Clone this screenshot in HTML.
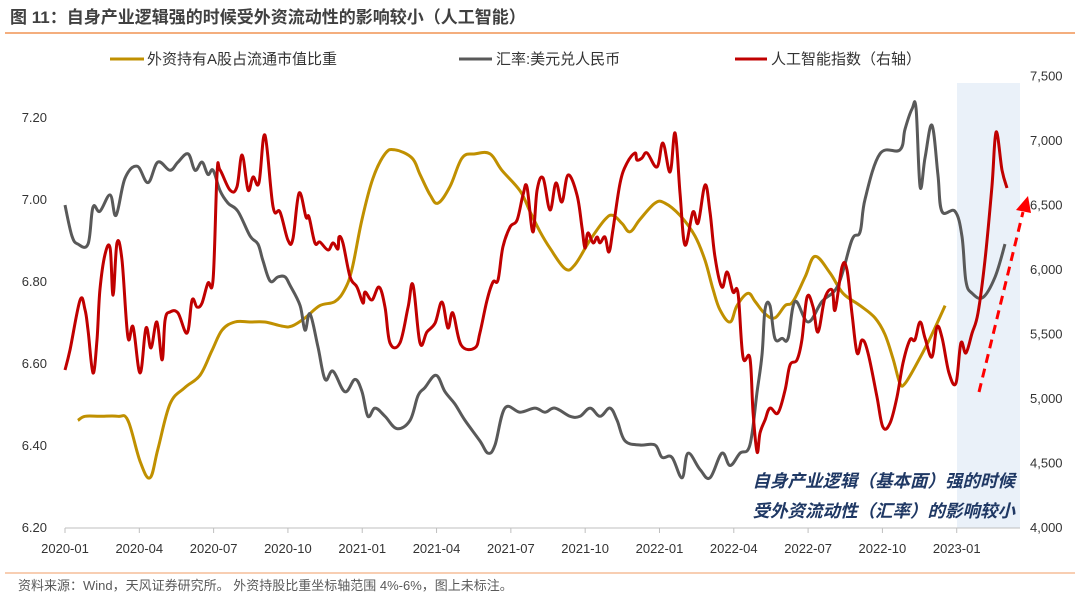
<!DOCTYPE html>
<html><head><meta charset="utf-8">
<style>
html,body{margin:0;padding:0;background:#fff;}
body{width:1080px;height:599px;overflow:hidden;font-family:"Liberation Sans","Noto Sans CJK SC",sans-serif;}
svg{display:block}
</style></head>
<body>
<svg id="chart" width="1080" height="599" viewBox="0 0 1080 599" xmlns="http://www.w3.org/2000/svg">
  <text x="10" y="23" font-size="17" font-weight="bold" fill="#404040" font-family="Liberation Sans, Noto Sans CJK SC, sans-serif">图 11：自身产业逻辑强的时候受外资流动性的影响较小（人工智能）</text>
  <line x1="5" y1="33" x2="1075" y2="33" stroke="#ed7d31" stroke-width="1.2"/>
  <rect x="957" y="83" width="63" height="445" fill="#eaf1f9"/>
  <g id="legend" font-size="15" fill="#333" font-family="Liberation Sans, Noto Sans CJK SC, sans-serif">
    <g>
      <line x1="110" y1="59" x2="144" y2="59" stroke="#c09000" stroke-width="3"/>
      <text x="147" y="64">外资持有A股占流通市值比重</text>
    </g>
    <g>
      <line x1="459" y1="59" x2="492" y2="59" stroke="#595959" stroke-width="3"/>
      <text x="496" y="64">汇率:美元兑人民币</text>
    </g>
    <g>
      <line x1="735" y1="59" x2="767" y2="59" stroke="#c00000" stroke-width="3"/>
      <text x="771" y="64">人工智能指数（右轴）</text>
    </g>
  </g>
  <g id="axes"></g>
  <g id="series"></g>
  <g>
    <line x1="979" y1="392" x2="1023" y2="212" stroke="#ff0000" stroke-width="3" stroke-dasharray="9,6"/>
    <polygon points="1028,196 1016,210 1031,213" fill="#ff0000"/>
  </g>
  <text x="1015" y="487" text-anchor="end" font-size="17.5" font-style="italic" font-weight="bold" fill="#1f3864" font-family="Liberation Sans, Noto Sans CJK SC, sans-serif">自身产业逻辑（基本面）强的时候</text>
  <text x="1015" y="517" text-anchor="end" font-size="17.5" font-style="italic" font-weight="bold" fill="#1f3864" font-family="Liberation Sans, Noto Sans CJK SC, sans-serif">受外资流动性（汇率）的影响较小</text>
  <line x1="5" y1="573" x2="1075" y2="573" stroke="#f4b183" stroke-width="1.2"/>
  <text x="18" y="590" font-size="13" fill="#595959" font-family="Liberation Sans, Noto Sans CJK SC, sans-serif">资料来源：Wind，天风证券研究所。 外资持股比重坐标轴范围 4%-6%，图上未标注。</text>
</svg>
<script>
const xLabels = ["2020-01","2020-04","2020-07","2020-10","2021-01","2021-04","2021-07","2021-10","2022-01","2022-04","2022-07","2022-10","2023-01"];
const leftTicks = [6.20,6.40,6.60,6.80,7.00,7.20];
const rightTicks = [4000,4500,5000,5500,6000,6500,7000,7500];
const fxMonths = [0,0.28,0.52,0.93,1.13,1.41,1.82,2.06,2.42,2.91,3.35,3.75,4.24,4.56,4.97,5.25,5.53,5.77,5.98,6.26,6.58,6.98,7.47,7.79,7.99,8.28,8.6,8.88,9.08,9.49,9.69,9.89,10.21,10.5,10.82,11.3,11.71,11.99,12.23,12.52,12.92,13.4,13.93,14.25,14.53,14.98,15.34,15.74,16.15,16.75,17.08,17.36,17.76,18.37,18.97,19.38,19.78,20.39,20.79,21.2,21.6,22.0,22.29,22.61,23.21,23.82,24.1,24.5,24.91,25.15,25.64,26.04,26.52,26.85,27.25,27.65,27.94,28.14,28.26,28.46,28.66,28.95,29.19,29.47,30.0,30.56,31.21,31.77,32.1,32.3,32.9,33.71,33.91,34.2,34.36,34.52,34.72,35.0,35.24,35.4,35.93,36.21,36.37,36.62,37.06,37.55,37.95];
const fxValues = [6.985,6.91,6.89,6.89,6.98,6.97,7.01,6.96,7.05,7.08,7.04,7.09,7.07,7.09,7.11,7.07,7.09,7.06,7.07,7.02,6.99,6.97,6.91,6.89,6.85,6.80,6.81,6.81,6.79,6.74,6.68,6.72,6.64,6.56,6.58,6.53,6.56,6.53,6.47,6.49,6.47,6.44,6.46,6.52,6.54,6.57,6.53,6.50,6.46,6.41,6.38,6.40,6.49,6.48,6.49,6.48,6.49,6.47,6.47,6.49,6.47,6.49,6.46,6.41,6.40,6.40,6.37,6.37,6.32,6.38,6.34,6.32,6.38,6.35,6.38,6.40,6.53,6.62,6.73,6.74,6.66,6.66,6.66,6.75,6.70,6.75,6.79,6.90,6.92,7.0,7.11,7.12,7.17,7.22,7.22,7.03,7.10,7.18,7.06,6.97,6.97,6.91,6.80,6.77,6.76,6.81,6.89];
const holdMonths = [0.52,0.81,1.41,2.14,2.54,3.03,3.43,3.75,4.24,4.84,5.45,5.93,6.34,6.86,7.47,8.07,8.76,9.16,9.69,10.29,10.9,11.3,11.59,11.99,12.43,12.92,13.32,14.01,14.33,14.74,15.06,15.54,16.03,16.55,17.16,17.64,18.37,18.77,19.18,19.58,20.19,20.59,21.2,21.8,22.12,22.49,22.81,23.21,23.82,24.22,24.83,25.43,25.84,26.16,26.44,26.85,27.13,27.57,27.86,28.26,28.66,29.07,29.39,29.88,30.28,30.88,31.41,32.1,32.7,33.1,33.43,33.71,33.91,34.31,34.92,35.53];
const holdValues = [6.46,6.47,6.47,6.47,6.46,6.36,6.32,6.39,6.50,6.54,6.57,6.63,6.68,6.70,6.70,6.70,6.69,6.69,6.71,6.74,6.75,6.78,6.83,6.95,7.05,7.11,7.12,7.10,7.06,7.01,6.99,7.03,7.10,7.11,7.11,7.07,7.02,6.97,6.92,6.88,6.83,6.84,6.90,6.95,6.96,6.94,6.92,6.95,6.99,6.99,6.96,6.91,6.85,6.78,6.73,6.70,6.74,6.77,6.75,6.72,6.71,6.74,6.75,6.81,6.86,6.82,6.77,6.74,6.71,6.67,6.61,6.55,6.55,6.59,6.66,6.74];
const aiMonths = [0,0.2,0.61,0.81,0.93,1.13,1.29,1.41,1.61,1.82,1.94,2.1,2.3,2.54,2.75,3.03,3.27,3.47,3.71,3.92,4.04,4.24,4.56,4.93,5.13,5.33,5.53,5.77,5.98,6.14,6.26,6.66,6.94,7.15,7.39,7.59,7.83,8.07,8.4,8.68,9.0,9.2,9.45,9.73,9.85,10.09,10.29,10.62,10.82,11.02,11.06,11.22,11.51,11.79,12.03,12.11,12.39,12.68,12.92,13.12,13.52,13.85,14.05,14.33,14.61,14.94,15.22,15.46,15.66,15.99,16.55,16.75,17.04,17.28,17.48,17.68,17.97,18.25,18.49,18.65,18.89,19.06,19.3,19.58,19.82,20.06,20.31,20.67,20.87,20.99,21.11,21.32,21.48,21.6,21.8,21.96,22.12,22.41,22.69,23.01,23.09,23.29,23.5,23.9,24.14,24.43,24.63,24.83,25.03,25.35,25.56,25.84,26.04,26.24,26.52,26.73,26.97,27.17,27.37,27.65,27.78,27.94,28.06,28.26,28.46,28.78,29.07,29.27,29.55,29.75,29.96,30.2,30.4,30.68,30.97,31.09,31.37,31.57,31.77,31.98,32.18,32.42,32.78,33.02,33.31,33.59,33.83,34.11,34.31,34.52,34.72,35.0,35.2,35.41,35.69,35.97,36.17,36.37,36.62,36.86,37.14,37.42,37.59,37.83,38.03];
const aiValues = [5217,5372,5760,5682,5527,5194,5450,5837,6109,6163,5798,6202,6070,5473,5550,5194,5543,5388,5589,5295,5605,5667,5659,5504,5760,5705,5736,5891,5922,6744,6767,6612,6636,6884,6612,6713,6667,7039,6481,6442,6225,6233,6589,6403,6403,6202,6209,6147,6202,6155,6248,6202,5938,5860,5736,5822,5760,5860,5705,5426,5426,5705,5876,5426,5512,5581,5744,5543,5659,5411,5388,5504,5760,5899,5915,6171,6326,6380,6574,6636,6287,6612,6705,6457,6667,6519,6729,6574,6326,6163,6279,6202,6248,6202,6248,6132,6302,6667,6822,6899,6845,6860,6899,6791,6977,6752,7054,6589,6186,6442,6357,6651,6442,6093,5860,5977,5822,5814,5318,5310,4884,4581,4729,4829,4922,4884,5062,5256,5295,5450,5783,5705,5512,5775,5837,5682,6016,5992,5659,5349,5450,5349,5008,4775,4806,5008,5271,5450,5450,5589,5465,5318,5550,5465,5194,5116,5426,5349,5504,5659,6070,6636,7062,6767,6628];

const NS = "http://www.w3.org/2000/svg";
const X0 = 65, PX_PER_MONTH = 24.77;
function xScale(m){ return X0 + m * PX_PER_MONTH; }
function yLeft(v){ return 199 - (v - 7.0) * 410; }
function yRight(r){ return 527 - (r - 4000) * 0.129; }
function mk(tag, attrs, parent){
  const e = document.createElementNS(NS, tag);
  for (const k in attrs) e.setAttribute(k, attrs[k]);
  parent.appendChild(e);
  return e;
}
const axes = document.getElementById('axes');
const series = document.getElementById('series');
const fontStack = "Liberation Sans, Noto Sans CJK SC, sans-serif";

const xAxis = mk('line', {x1:65, y1:528, x2:1020, y2:528, stroke:'#bfbfbf', 'stroke-width':1}, axes);



xLabels.forEach((lab, i) => {
  const x = xScale(i * 3);
  const tk = mk('line', {x1:x, y1:528, x2:x, y2:533, stroke:'#bfbfbf', 'stroke-width':1}, axes);
  
  
  const t = mk('text', {x:x, y:553, 'text-anchor':'middle', 'font-size':13, fill:'#333', 'font-family':fontStack}, axes);
  t.textContent = lab;
  
  
});
leftTicks.forEach(v => {
  const t = mk('text', {x:47, y:yLeft(v)+5, 'text-anchor':'end', 'font-size':13, fill:'#333', 'font-family':fontStack}, axes);
  t.textContent = v.toFixed(2);
  
  
});
rightTicks.forEach(r => {
  const t = mk('text', {x:1030, y:yRight(r)+5, 'text-anchor':'start', 'font-size':13, fill:'#333', 'font-family':fontStack}, axes);
  t.textContent = r.toLocaleString('en-US');
  
  
});

function smoothPath(pts){
  let d = 'M' + pts[0][0].toFixed(1) + ',' + pts[0][1].toFixed(1);
  for (let i = 0; i < pts.length - 1; i++){
    const p0 = pts[i-1] || pts[i], p1 = pts[i], p2 = pts[i+1], p3 = pts[i+2] || p2;
    const t = 0.18;
    const c1x = p1[0] + (p2[0]-p0[0])*t, c1y = p1[1] + (p2[1]-p0[1])*t;
    const c2x = p2[0] - (p3[0]-p1[0])*t, c2y = p2[1] - (p3[1]-p1[1])*t;
    d += ' C' + c1x.toFixed(1)+','+c1y.toFixed(1)+' '+c2x.toFixed(1)+','+c2y.toFixed(1)+' '+p2[0].toFixed(1)+','+p2[1].toFixed(1);
  }
  return d;
}

const goldPts = holdMonths.map((m,i) => [xScale(m), yLeft(holdValues[i])]);
const gold = mk('path', {d:smoothPath(goldPts), fill:'none', stroke:'#c09000', 'stroke-width':3, 'stroke-linejoin':'round'}, series);



const fxPts = fxMonths.map((m,i) => [xScale(m), yLeft(fxValues[i])]);
const fx = mk('path', {d:smoothPath(fxPts), fill:'none', stroke:'#595959', 'stroke-width':3, 'stroke-linejoin':'round'}, series);



const aiPts = aiMonths.map((m,i) => [xScale(m), yRight(aiValues[i])]);
const ai = mk('path', {d:smoothPath(aiPts), fill:'none', stroke:'#c00000', 'stroke-width':3, 'stroke-linejoin':'round'}, series);


</script>
</body></html>
